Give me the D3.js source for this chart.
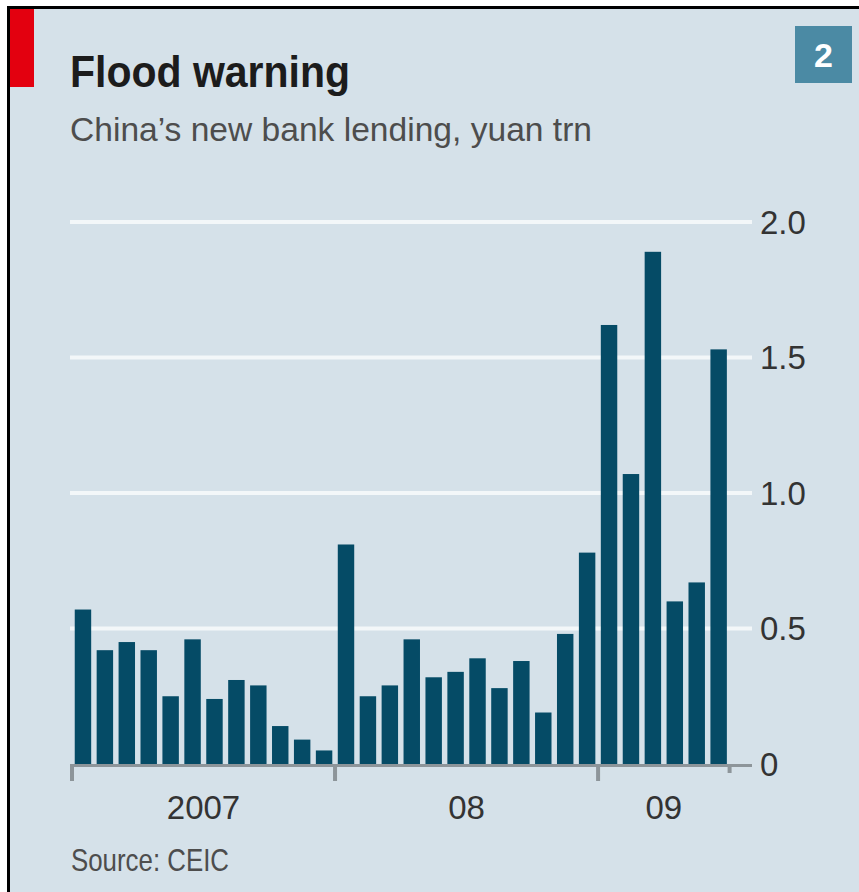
<!DOCTYPE html>
<html>
<head>
<meta charset="utf-8">
<script src="https://cdn.jsdelivr.net/npm/d3@7"></script>
<style>
  html, body { margin: 0; padding: 0; background: #ffffff; }
  svg { display: block; }
  text { font-family: "Liberation Sans", Arial, sans-serif; }
</style>
</head>
<body>
<div id="chart"></div>
<script>
// ---- Data (China's new bank lending, yuan trn) ----
const months = [
  "2007-01","2007-02","2007-03","2007-04","2007-05","2007-06",
  "2007-07","2007-08","2007-09","2007-10","2007-11","2007-12",
  "2008-01","2008-02","2008-03","2008-04","2008-05","2008-06",
  "2008-07","2008-08","2008-09","2008-10","2008-11","2008-12",
  "2009-01","2009-02","2009-03","2009-04","2009-05","2009-06"
];
const lending = [
  0.57, 0.42, 0.45, 0.42, 0.25, 0.46, 0.24, 0.31, 0.29, 0.14, 0.09, 0.05,
  0.81, 0.25, 0.29, 0.46, 0.32, 0.34, 0.39, 0.28, 0.38, 0.19, 0.48, 0.78,
  1.62, 1.07, 1.89, 0.60, 0.67, 1.53
];
const yTicks = [0, 0.5, 1.0, 1.5, 2.0];
const yTickLabels = ["0", "0.5", "1.0", "1.5", "2.0"];
const yearGroups = [
  { label: "2007", first: "2007-01", last: "2007-12" },
  { label: "08",   first: "2008-01", last: "2008-12" },
  { label: "09",   first: "2009-01", last: "2009-06" }
];
const titleText = "Flood warning";
const subtitleText = "China\u2019s new bank lending, yuan trn";
const sourceText = "Source: CEIC";
const chartNumber = "2";

// ---- Layout ----
const W = 859, H = 892;
const svg = d3.select("#chart").append("svg").attr("width", W).attr("height", H);

// panel background + black border (top & left)
svg.append("rect").attr("x", 7).attr("y", 6).attr("width", W - 7).attr("height", H - 6).attr("fill", "#d5e1e9");
svg.append("rect").attr("x", 7).attr("y", 6).attr("width", W - 7).attr("height", 3).attr("fill", "#000");
svg.append("rect").attr("x", 7).attr("y", 6).attr("width", 3).attr("height", H - 6).attr("fill", "#000");
// red tag
svg.append("rect").attr("x", 10).attr("y", 9).attr("width", 24).attr("height", 78).attr("fill", "#e3000f");

// titles
svg.append("text").attr("x", 70).attr("y", 87)
  .attr("font-size", 45).attr("font-weight", "bold").attr("fill", "#1c1c1c")
  .attr("textLength", 280).attr("lengthAdjust", "spacingAndGlyphs")
  .text(titleText);
svg.append("text").attr("x", 70).attr("y", 141)
  .attr("font-size", 33).attr("fill", "#4d4d4d")
  .attr("textLength", 522).attr("lengthAdjust", "spacingAndGlyphs")
  .text(subtitleText);

// chart number box
svg.append("rect").attr("x", 795).attr("y", 26).attr("width", 57).attr("height", 57).attr("fill", "#4b8aa4");
svg.append("text").attr("x", 823.5).attr("y", 67).attr("text-anchor", "middle")
  .attr("font-size", 34).attr("font-weight", "bold").attr("fill", "#ffffff")
  .text(chartNumber);

// scales
const x = d3.scaleBand().domain(months).range([72, 729.6]).paddingInner(0.25).paddingOuter(0.125);
const y = d3.scaleLinear().domain([0, 2]).range([764, 222]);

// gridlines
svg.append("g").selectAll("line").data(yTicks.filter(d => d > 0)).join("line")
  .attr("x1", 70).attr("x2", 752)
  .attr("y1", d => y(d)).attr("y2", d => y(d))
  .attr("stroke", "#f3f7f9").attr("stroke-width", 4);

// tick labels (right)
svg.append("g").selectAll("text").data(yTicks).join("text")
  .attr("x", 760).attr("y", d => y(d)).attr("dy", "0.36em")
  .attr("font-size", 33).attr("fill", "#333")
  .text((d, i) => yTickLabels[i]);

// bars
svg.append("g").selectAll("rect").data(lending).join("rect")
  .attr("x", (d, i) => x(months[i]))
  .attr("width", x.bandwidth())
  .attr("y", d => y(d))
  .attr("height", d => y(0) - y(d))
  .attr("fill", "#054b66");

// axis baseline
svg.append("line").attr("x1", 70).attr("x2", 752)
  .attr("y1", 765.5).attr("y2", 765.5)
  .attr("stroke", "#8d959a").attr("stroke-width", 3);

// year boundary ticks
const step = x.step();
const edge = m => x(m) - x.paddingOuter() * step - (x.paddingInner() * step) / 2 + x.paddingOuter() * step;
const leftEdge = m => x(m) - (step - x.bandwidth()) / 2;
const boundaries = yearGroups.map(g => leftEdge(g.first));
svg.append("g").selectAll("line").data(boundaries).join("line")
  .attr("x1", d => d).attr("x2", d => d)
  .attr("y1", 764).attr("y2", 781)
  .attr("stroke", "#8d959a").attr("stroke-width", 4);
const endX = leftEdge(months[months.length - 1]) + step;
svg.append("line").attr("x1", endX).attr("x2", endX)
  .attr("y1", 764).attr("y2", 773)
  .attr("stroke", "#8d959a").attr("stroke-width", 4);

// year labels
svg.append("g").selectAll("text").data(yearGroups).join("text")
  .attr("x", g => (leftEdge(g.first) + leftEdge(g.last) + step) / 2)
  .attr("y", 819).attr("text-anchor", "middle")
  .attr("font-size", 33).attr("fill", "#333")
  .text(g => g.label);

// source
svg.append("text").attr("x", 71).attr("y", 871)
  .attr("font-size", 32).attr("fill", "#4d4d4d")
  .attr("textLength", 158).attr("lengthAdjust", "spacingAndGlyphs")
  .text(sourceText);
</script>
</body>
</html>
